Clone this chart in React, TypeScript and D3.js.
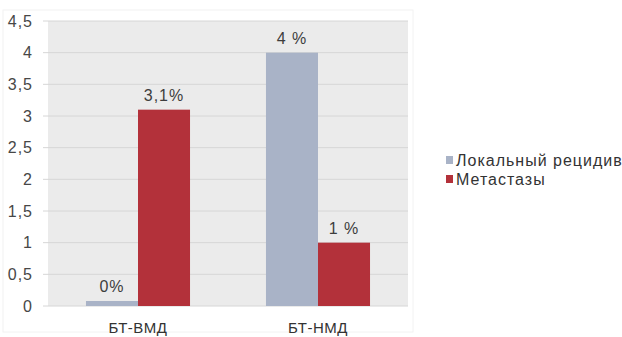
import React from "react";
import * as d3 from "d3";

const categories = ["БТ-ВМД", "БТ-НМД"];
const seriesNames = ["Локальный рецидив", "Метастазы"];
const localRecurrence = [0, 4];
const metastases = [3.1, 1];
const localLabels = ["0%", "4 %"];
const metastasesLabels = ["3,1%", "1 %"];
const yTicks = [0, 0.5, 1, 1.5, 2, 2.5, 3, 3.5, 4, 4.5];

const colors = ["#a9b3c7", "#b3313a"];
const W = 622;
const H = 337;
const margin = { top: 21, right: 214, bottom: 31, left: 48 };
const barMinHeight = 5;
const font = "'Liberation Sans', Arial, sans-serif";

export default function App() {
  const innerW = W - margin.left - margin.right;
  const innerH = H - margin.top - margin.bottom;
  const x0 = d3.scaleBand().domain(categories).range([0, innerW]).paddingInner(0).paddingOuter(0);
  const x1 = d3
    .scaleBand()
    .domain(seriesNames)
    .range([0, x0.bandwidth()])
    .paddingOuter(0.73)
    .paddingInner(0);
  const y = d3.scaleLinear().domain([0, 4.5]).range([innerH, 0]);
  const fmt = (v: number) => String(v).replace(".", ",");

  const series = [
    { name: seriesNames[0], values: localRecurrence, labels: localLabels, color: colors[0] },
    { name: seriesNames[1], values: metastases, labels: metastasesLabels, color: colors[1] },
  ];

  return (
    <svg
      width={W}
      height={H}
      style={{ position: "absolute", left: 0, top: 0, background: "#fff" }}
      fontFamily={font}
    >
      <rect x={3} y={10} width={410} height={322} fill="none" stroke="#f2f2f2" />
      <g transform={`translate(${margin.left},${margin.top})`}>
        <rect x={0} y={0} width={innerW} height={innerH} fill="#ebebeb" />
        {yTicks.map((t) => (
          <g key={t}>
            <line x1={-5} x2={innerW} y1={y(t)} y2={y(t)} stroke="#d6d6d6" strokeWidth={1} />
            <text
              x={-15}
              y={y(t)}
              dy="0.35em"
              textAnchor="end"
              fontSize={16}
              letterSpacing={1}
              fill="#474747"
            >
              {fmt(t)}
            </text>
          </g>
        ))}
        {categories.map((c, i) => (
          <g key={c} transform={`translate(${x0(c)},0)`}>
            {series.map((s) => {
              const v = s.values[i];
              const top = Math.min(y(v), innerH - barMinHeight);
              const bx = x1(s.name)!;
              return (
                <g key={s.name}>
                  <rect x={bx} y={top} width={x1.bandwidth()} height={innerH - top} fill={s.color} />
                  <text
                    x={bx + x1.bandwidth() / 2}
                    y={top - 9}
                    textAnchor="middle"
                    fontSize={16}
                    letterSpacing={1}
                    fill="#3d3d3d"
                  >
                    {s.labels[i]}
                  </text>
                </g>
              );
            })}
            <text
              x={x0.bandwidth() / 2}
              y={innerH + 27}
              textAnchor="middle"
              fontSize={15}
              letterSpacing={0.5}
              fill="#333"
            >
              {c}
            </text>
          </g>
        ))}
      </g>
      <g transform="translate(446,156)">
        {series.map((s, i) => (
          <g key={s.name} transform={`translate(0,${i * 19})`}>
            <rect x={0} y={0} width={7} height={8} fill={s.color} />
            <text x={10} y={4} dy="0.35em" fontSize={16} letterSpacing={1} fill="#333">
              {s.name}
            </text>
          </g>
        ))}
      </g>
    </svg>
  );
}
